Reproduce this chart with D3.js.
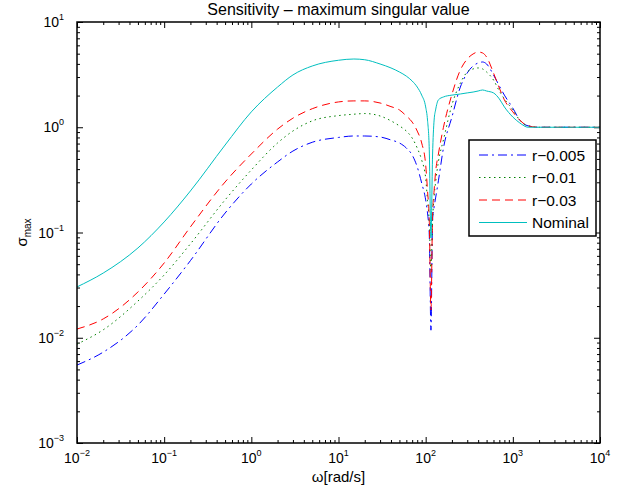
<!DOCTYPE html>
<html>
<head>
<meta charset="utf-8">
<script src="https://cdn.jsdelivr.net/npm/d3@7"></script>
<style>
  body { margin: 0; background: #fff; }
  text { font-family: "Liberation Sans", Arial, Helvetica, sans-serif; fill: #000; }
</style>
</head>
<body>
<svg id="chart"></svg>
<script>
(function() {

// frequency grid [rad/s] and max singular value
const omega = [0.01, 0.02, 0.05, 0.1, 0.2, 0.5, 1, 2, 3, 5, 10, 15, 20, 30, 40, 50, 60, 70, 80, 90,
  100, 105, 110, 115, 120, 125, 130, 140, 160, 200, 250, 300, 350, 400, 450, 500,
  600, 700, 800, 1000, 1200, 1500, 2000, 3000, 5000, 10000];

const sigmaR005 = [0.0055, 0.0073, 0.0132, 0.026, 0.054, 0.153, 0.289, 0.468, 0.594, 0.72, 0.80, 0.826, 0.826, 0.808, 0.757, 0.709, 0.635, 0.545, 0.42, 0.295,
  0.204, 0.153, 0.095, 0.0118, 0.131, 0.175, 0.213, 0.31, 0.635, 1.25, 2.41, 3.28, 3.82, 4.08, 4.17, 3.99,
  3.14, 2.47, 2.02, 1.52, 1.17, 1.03, 1.0, 1.0, 1.0, 1.0];

const sigmaR01 = [0.0087, 0.0119, 0.0223, 0.0395, 0.078, 0.204, 0.393, 0.709, 0.921, 1.15, 1.29, 1.33, 1.35, 1.28, 1.15, 1.03, 0.92, 0.79, 0.635, 0.488,
  0.33, 0.2, 0.125, 0.044, 0.13, 0.22, 0.30, 0.47, 0.76, 1.63, 2.63, 3.35, 3.58, 3.66, 3.58, 3.35,
  2.81, 2.21, 1.86, 1.46, 1.17, 1.03, 1.0, 1.0, 1.0, 1.0];

const sigmaR03 = [0.0121, 0.0151, 0.0272, 0.0513, 0.113, 0.302, 0.557, 0.96, 1.22, 1.50, 1.74, 1.78, 1.78, 1.70, 1.57, 1.46, 1.28, 1.12, 0.92, 0.709,
  0.44, 0.25, 0.13, 0.0184, 0.15, 0.25, 0.376, 0.557, 1.0, 2.05, 3.5, 4.45, 4.97, 5.19, 5.08, 4.65,
  3.28, 2.36, 1.82, 1.40, 1.17, 1.03, 1.0, 1.0, 1.0, 1.0];

const sigmaNominal = [0.0304, 0.0412, 0.0713, 0.126, 0.248, 0.678, 1.40, 2.41, 3.14, 3.82, 4.33, 4.45, 4.38, 3.99, 3.66, 3.35, 3.06, 2.75, 2.41, 2.02,
  1.56, 1.17, 0.61, 0.0886, 0.545, 1.17, 1.46, 1.82, 1.94, 2.02, 2.07, 2.12, 2.16, 2.21, 2.26, 2.21,
  2.12, 1.86, 1.56, 1.25, 1.10, 1.0, 1.0, 1.0, 1.0, 1.0];

const seriesNames = ["r\u22120.005", "r\u22120.01", "r\u22120.03", "Nominal"];
const xDecades = [-2, -1, 0, 1, 2, 3, 4];
const yDecades = [-3, -2, -1, 0, 1];

const colors = ["#0000ff", "#008000", "#ff0000", "#00bfbf"];
const dashes = ["9,4,2,4", "1.5,3.5", "8,5", null];

const margin = { top: 22, right: 23, bottom: 45, left: 77 };
const width = 623 - margin.left - margin.right;
const height = 488 - margin.top - margin.bottom;

const root = d3.select("#chart")
    .attr("width", 623)
    .attr("height", 488);

root.append("rect").attr("width", 623).attr("height", 488).attr("fill", "#fff");

const svg = root.append("g")
    .attr("transform", `translate(${margin.left},${margin.top})`);

const x = d3.scaleLog().domain([1e-2, 1e4]).range([0, width]);
const y = d3.scaleLog().domain([1e-3, 1e1]).range([height, 0]);

// major / minor tick positions
const xMajor = xDecades.map(d => Math.pow(10, d));
const yMajor = yDecades.map(d => Math.pow(10, d));
const minorOf = decs => decs.slice(0, -1).flatMap(d => d3.range(2, 10).map(k => k * Math.pow(10, d)));
const xMinor = minorOf(xDecades);
const yMinor = minorOf(yDecades);

function ticks(axisFn, scale, vals, size, transform) {
  svg.append("g")
      .attr("transform", transform)
      .call(axisFn(scale).tickValues(vals).tickSize(size).tickFormat(""))
      .call(g => g.select(".domain").remove())
      .selectAll("line").attr("stroke", "#000");
}
ticks(d3.axisBottom, x, xMajor, -6, `translate(0,${height})`);
ticks(d3.axisBottom, x, xMinor, -3, `translate(0,${height})`);
ticks(d3.axisTop, x, xMajor, -6, "translate(0,0)");
ticks(d3.axisTop, x, xMinor, -3, "translate(0,0)");
ticks(d3.axisLeft, y, yMajor, -6, "translate(0,0)");
ticks(d3.axisLeft, y, yMinor, -3, "translate(0,0)");
ticks(d3.axisRight, y, yMajor, -6, `translate(${width},0)`);
ticks(d3.axisRight, y, yMinor, -3, `translate(${width},0)`);

const expText = d => (d < 0 ? "\u2212" + (-d) : "" + d);

// x tick labels 10^n
const xl = svg.selectAll(".xlab")
    .data(xDecades)
    .enter().append("text")
    .attr("class", "xlab")
    .attr("x", d => x(Math.pow(10, d)))
    .attr("y", height + 20)
    .attr("text-anchor", "middle")
    .style("font-size", "14px");
xl.append("tspan").text("10");
xl.append("tspan").attr("dy", -7).style("font-size", "9px").text(d => expText(d));

// y tick labels 10^n
const yl = svg.selectAll(".ylab")
    .data(yDecades)
    .enter().append("text")
    .attr("class", "ylab")
    .attr("x", -13)
    .attr("y", d => y(Math.pow(10, d)) + 5)
    .attr("text-anchor", "end")
    .style("font-size", "14px");
yl.append("tspan").text("10");
yl.append("tspan").attr("dy", -7).style("font-size", "9px").text(d => expText(d));

// curves
const series = [sigmaR005, sigmaR01, sigmaR03, sigmaNominal];
const line = d3.line()
    .x(d => x(d[0]))
    .y(d => y(d[1]))
    .curve(d3.curveMonotoneX);

svg.selectAll(".curve")
    .data(series)
    .enter().append("path")
    .attr("class", "curve")
    .attr("fill", "none")
    .attr("stroke", (d, i) => colors[i])
    .attr("stroke-width", 1)
    .attr("stroke-dasharray", (d, i) => dashes[i])
    .attr("d", s => line(omega.map((w, i) => [w, s[i]])));

// frame
svg.append("rect")
    .attr("width", width)
    .attr("height", height)
    .attr("fill", "none")
    .attr("stroke", "#000")
    .attr("stroke-width", 1.5);

// legend
const legend = svg.append("g")
    .attr("transform", `translate(${width - 131}, 118)`);

legend.append("rect")
    .attr("width", 127)
    .attr("height", 96)
    .attr("fill", "#fff")
    .attr("stroke", "#000")
    .attr("stroke-width", 1.5);

const rowY = (d, i) => 15 + i * 22.5;

legend.selectAll("line")
    .data(seriesNames)
    .enter().append("line")
    .attr("x1", 10)
    .attr("x2", 58)
    .attr("y1", rowY)
    .attr("y2", rowY)
    .attr("stroke", (d, i) => colors[i])
    .attr("stroke-width", 1)
    .attr("stroke-dasharray", (d, i) => dashes[i]);

legend.selectAll("text")
    .data(seriesNames)
    .enter().append("text")
    .attr("x", 63)
    .attr("y", (d, i) => rowY(d, i) + 5.5)
    .style("font-size", "15.5px")
    .text(d => d);

// title and axis labels
svg.append("text")
    .attr("x", width / 2)
    .attr("y", -7)
    .attr("text-anchor", "middle")
    .style("font-size", "16px")
    .text("Sensitivity \u2013 maximum singular value");

svg.append("text")
    .attr("x", width / 2)
    .attr("y", height + 39)
    .attr("text-anchor", "middle")
    .style("font-size", "15px")
    .text("\u03c9[rad/s]");

const yt = svg.append("text")
    .attr("transform", `translate(-50,${height / 2}) rotate(-90)`)
    .attr("text-anchor", "middle")
    .style("font-size", "15px");
yt.append("tspan").text("\u03c3");
yt.append("tspan").attr("dy", 4).style("font-size", "10px").text("max");

})();
</script>
</body>
</html>
